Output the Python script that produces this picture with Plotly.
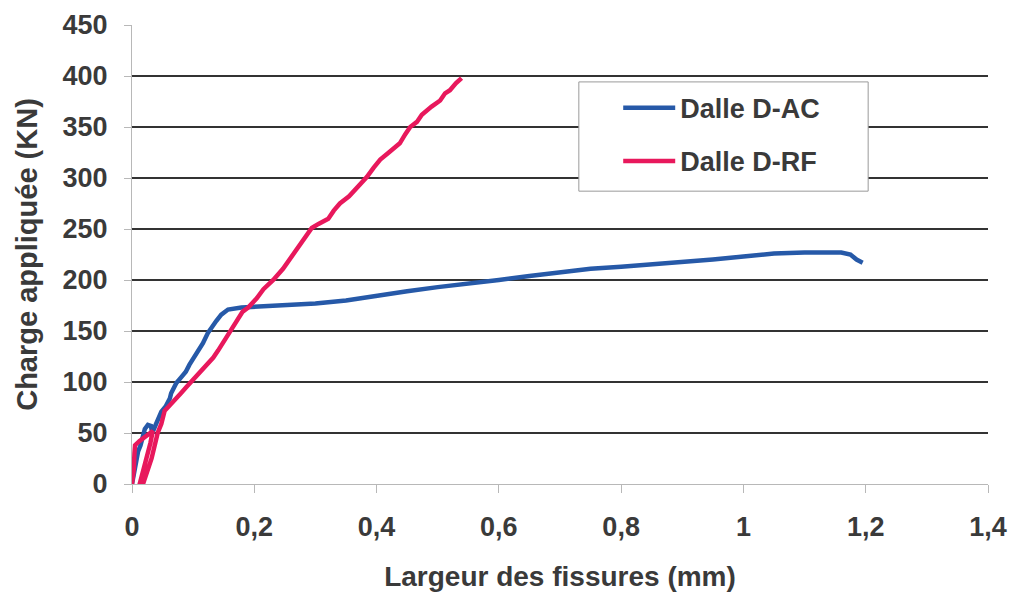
import plotly.graph_objects as go

# ---- data ----
series_names = ["Dalle D-AC", "Dalle D-RF"]

ac_x = [0, 0.003, 0.006, 0.01, 0.014, 0.018, 0.021, 0.026, 0.031, 0.033, 0.036, 0.0425,
        0.048, 0.055, 0.062, 0.064, 0.0725, 0.081, 0.088, 0.094, 0.1025, 0.108, 0.116,
        0.124, 0.13, 0.138, 0.146, 0.157, 0.179, 0.206, 0.25, 0.3, 0.35, 0.4, 0.45, 0.5,
        0.55, 0.6, 0.65, 0.7, 0.75, 0.8, 0.85, 0.9, 0.95, 1.0, 1.05, 1.1, 1.13, 1.16,
        1.175, 1.185, 1.195]
ac_y = [0, 10, 22, 32, 38, 46, 54, 58, 57, 50, 54, 64,
        71, 76, 84, 89, 99, 105, 110, 117, 125, 130, 138,
        148, 154, 160, 166, 171, 173, 174, 175, 177, 180, 185, 189, 193,
        196, 200, 204, 208, 211, 213, 215, 218, 220, 223, 226, 227, 227.5, 227,
        225, 220, 217]

rf_x = [0, 0.003, 0.004, 0.005, 0.012, 0.02, 0.028, 0.034, 0.03, 0.024, 0.018, 0.013,
        0.018, 0.025, 0.032, 0.038, 0.042, 0.048, 0.0535, 0.06, 0.07, 0.08, 0.089, 0.098,
        0.108, 0.116, 0.124, 0.133, 0.141, 0.148, 0.157, 0.162, 0.168, 0.175, 0.181, 0.19,
        0.2, 0.204, 0.215, 0.231, 0.247, 0.26, 0.275, 0.285, 0.294, 0.305, 0.321, 0.33,
        0.34, 0.355, 0.3675, 0.384, 0.395, 0.406, 0.42, 0.438, 0.447, 0.455, 0.466, 0.474,
        0.49, 0.504, 0.512, 0.52, 0.53, 0.539]
rf_y = [0, 15, 30, 38, 42, 46, 50, 52, 40, 25, 10, 1,
        0, 12, 25, 40, 50, 59, 72, 76, 82, 89, 95, 101,
        107, 112, 118, 124, 131, 138, 146, 150, 158, 163, 169, 173,
        179, 182, 191, 200, 211, 222, 236, 243, 251, 255, 260, 268,
        275, 282, 290, 301, 310, 318, 325, 334, 343, 350, 355, 362,
        370, 376, 383, 386, 393, 398]

x_tickvals = [0, 0.2, 0.4, 0.6, 0.8, 1.0, 1.2, 1.4]
x_ticktext = ["0", "0,2", "0,4", "0,6", "0,8", "1", "1,2", "1,4"]
y_tickvals = [0, 50, 100, 150, 200, 250, 300, 350, 400, 450]

colors = ["#2659a8", "#e8185c"]
FONT = "Liberation Sans, Arial, sans-serif"
TXT = "#3a3a3a"

fig = go.Figure()
fig.add_trace(go.Scatter(x=ac_x, y=ac_y, mode="lines", name=series_names[0],
                         legendgroup="a", line=dict(color=colors[0], width=4.5)))
fig.add_trace(go.Scatter(x=rf_x, y=rf_y, mode="lines", name=series_names[1],
                         legendgroup="b", line=dict(color=colors[1], width=4.5)))

# legend frame (box behind the legend entries)
fig.add_shape(type="rect", xref="paper", yref="paper",
              x0=0.522, x1=0.860, y0=0.638, y1=0.876,
              line=dict(color="#9a9a9a", width=1), fillcolor="white", layer="above")

fig.update_layout(
    width=1018, height=600,
    margin=dict(l=132, r=30, t=25, b=116, autoexpand=False),
    paper_bgcolor="white", plot_bgcolor="white",
    font=dict(family=FONT, color=TXT, size=26, weight="bold"),
    legend=dict(x=0.568, y=0.872, xanchor="left", yanchor="top",
                bgcolor="rgba(0,0,0,0)", borderwidth=0,
                font=dict(family=FONT, size=27, color=TXT, weight="bold"),
                tracegroupgap=15, itemwidth=52),
    xaxis=dict(range=[0, 1.4], tickvals=x_tickvals, ticktext=x_ticktext,
               showgrid=False, zeroline=False, showline=True, linecolor="#b8b8b8",
               linewidth=1, ticks="outside", ticklen=8, tickcolor="#b8b8b8",
               ticklabelstandoff=11,
               tickfont=dict(family=FONT, size=27, color=TXT, weight="bold"),
               title=dict(text="Largeur des fissures (mm)", standoff=24,
                          font=dict(family=FONT, size=28, color=TXT, weight="bold"))),
    yaxis=dict(range=[0, 450], tickvals=y_tickvals,
               showgrid=True, gridcolor="#333333", gridwidth=2,
               zeroline=True, zerolinecolor="#b8b8b8", zerolinewidth=1,
               showline=True, linecolor="#b8b8b8", linewidth=1,
               ticks="outside", ticklen=7, tickcolor="#b8b8b8",
               ticklabelstandoff=11,
               tickfont=dict(family=FONT, size=27, color=TXT, weight="bold"),
               title=dict(text="Charge appliquée (KN)", standoff=16,
                          font=dict(family=FONT, size=29, color=TXT, weight="bold"))),
)

fig.write_html("out.html")
